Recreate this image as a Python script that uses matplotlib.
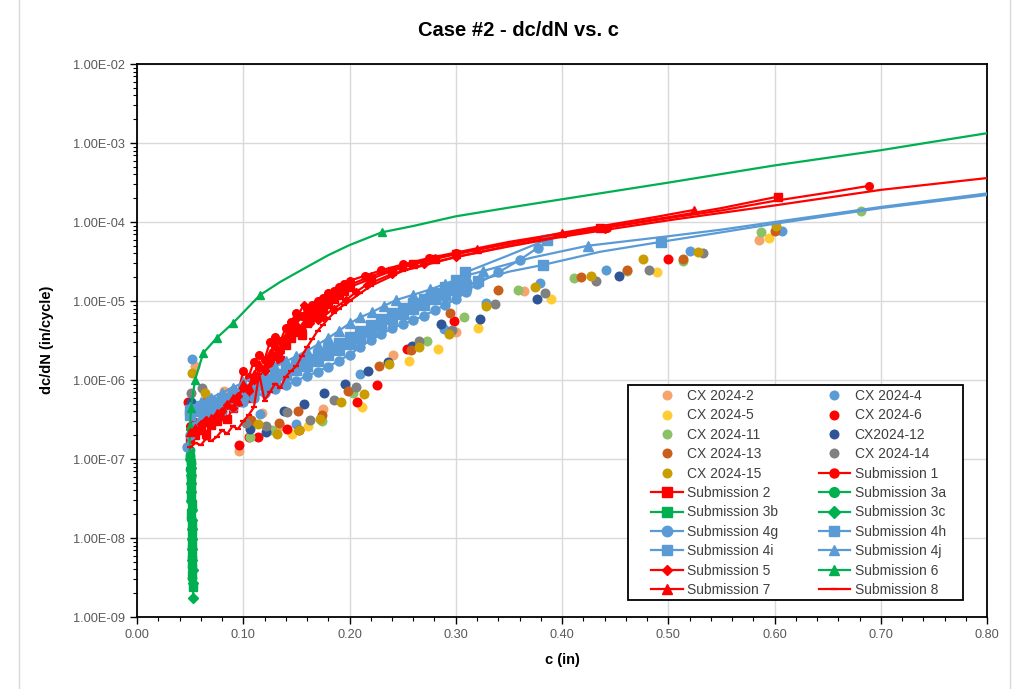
import numpy as np
import matplotlib
matplotlib.use("Agg")
import matplotlib.pyplot as plt
from matplotlib.lines import Line2D
from matplotlib.patches import Rectangle
from matplotlib.ticker import FuncFormatter, MultipleLocator, FixedLocator, NullFormatter

plt.rcParams['font.family'] = ['Liberation Sans', 'DejaVu Sans']

# ---- CX scatter data (c in, dc/dN in/cycle) ----
cx2_c = [0.0546, 0.082, 0.096, 0.118, 0.135, 0.1755, 0.2406, 0.300, 0.364, 0.5857]
cx2_y = [1.5e-6, 7.3e-7, 1.27e-7, 3.8e-7, 2.6e-7, 4.3e-7, 2.1e-6, 4.1e-6, 1.35e-5, 5.9e-5]

cx4_c = [0.0515, 0.1158, 0.150, 0.210, 0.289, 0.328, 0.379, 0.441, 0.520, 0.607]
cx4_y = [1.83e-6, 3.7e-7, 2.8e-7, 1.2e-6, 4.4e-6, 9.5e-6, 1.7e-5, 2.45e-5, 4.3e-5, 7.8e-5]

cx5_c = [0.1456, 0.161, 0.2115, 0.256, 0.2836, 0.321, 0.3897, 0.489, 0.595]
cx5_y = [2.1e-7, 2.6e-7, 4.5e-7, 1.75e-6, 2.5e-6, 4.5e-6, 1.05e-5, 2.35e-5, 6.2e-5]

cx6_c = [0.0483, 0.096, 0.1057, 0.1136, 0.141, 0.152, 0.207, 0.226, 0.254, 0.298, 0.4995]
cx6_y = [5.3e-7, 1.5e-7, 1.9e-7, 1.9e-7, 2.4e-7, 2.3e-7, 5.2e-7, 8.6e-7, 2.5e-6, 5.6e-6, 3.4e-5]

cx11_c = [0.106, 0.1268, 0.174, 0.203, 0.273, 0.308, 0.359, 0.4116, 0.461, 0.5136, 0.587, 0.681]
cx11_y = [1.9e-7, 2.3e-7, 3.0e-7, 6.8e-7, 3.1e-6, 6.3e-6, 1.38e-5, 1.97e-5, 2.4e-5, 3.2e-5, 7.4e-5, 1.38e-4]

cx12_c = [0.051, 0.106, 0.1214, 0.1379, 0.1575, 0.1757, 0.196, 0.217, 0.2365, 0.2585,
          0.286, 0.323, 0.376, 0.4536]
cx12_y = [5.3e-7, 2.4e-7, 2.2e-7, 4.0e-7, 4.9e-7, 6.9e-7, 9.0e-7, 1.3e-6, 1.7e-6, 2.7e-6,
          5.1e-6, 5.9e-6, 1.05e-5, 2.1e-5]

cx13_c = [0.0656, 0.107, 0.1336, 0.1518, 0.174, 0.199, 0.228, 0.2576, 0.2946, 0.340,
          0.4176, 0.461, 0.5136, 0.600]
cx13_y = [5.6e-7, 3.1e-7, 2.85e-7, 4.0e-7, 3.6e-7, 7.3e-7, 1.5e-6, 2.4e-6, 7.0e-6, 1.38e-5,
          2.0e-5, 2.5e-5, 3.4e-5, 7.6e-5]

cx14_c = [0.0508, 0.061, 0.103, 0.121, 0.141, 0.163, 0.185, 0.206, 0.265, 0.296,
          0.337, 0.384, 0.432, 0.482, 0.533]
cx14_y = [6.9e-7, 7.9e-7, 2.85e-7, 2.6e-7, 3.9e-7, 3.1e-7, 5.6e-7, 8.2e-7, 3.1e-6, 4.3e-6,
          9.2e-6, 1.27e-5, 1.77e-5, 2.5e-5, 4.0e-5]

cx15_c = [0.052, 0.064, 0.114, 0.132, 0.152, 0.172, 0.192, 0.214, 0.2375, 0.265,
          0.2937, 0.328, 0.375, 0.427, 0.4765, 0.528, 0.601]
cx15_y = [1.23e-6, 6.9e-7, 2.8e-7, 2.1e-7, 2.3e-7, 3.2e-7, 5.2e-7, 6.6e-7, 1.6e-6, 2.6e-6,
          3.8e-6, 8.7e-6, 1.5e-5, 2.1e-5, 3.4e-5, 4.2e-5, 8.9e-5]

# ---- Submission curves ----
low_c = [0.050, 0.055, 0.060, 0.065, 0.070, 0.075, 0.080, 0.085, 0.090, 0.095,
         0.100, 0.105, 0.110, 0.115, 0.120, 0.125, 0.130, 0.135, 0.140, 0.145,
         0.150, 0.155, 0.160, 0.165, 0.170, 0.175, 0.180, 0.185, 0.190, 0.195, 0.200]

sub1_c = low_c + [0.215, 0.23, 0.25, 0.275, 0.30, 0.35, 0.40, 0.442, 0.50, 0.55, 0.60, 0.65, 0.689]
sub1_y = [2.6e-7, 2.9e-7, 2.7e-7, 3.4e-7, 3.9e-7, 4.6e-7, 4.2e-7, 6.0e-7, 7.5e-7, 6.8e-7,
          1.3e-6, 1.1e-6, 1.7e-6, 2.1e-6, 1.8e-6, 3.0e-6, 3.5e-6, 3.1e-6, 4.6e-6, 5.5e-6,
          7.0e-6, 6.4e-6, 8.0e-6, 8.8e-6, 1.0e-5, 1.1e-5, 1.25e-5, 1.35e-5, 1.5e-5, 1.65e-5, 1.8e-5,
          2.1e-5, 2.45e-5, 2.9e-5, 3.5e-5, 4.1e-5, 5.6e-5, 7.2e-5, 8.5e-5, 1.12e-4, 1.4e-4,
          1.85e-4, 2.35e-4, 2.87e-4]
sub1_marks = [0.442, 0.689]

sub2_c = low_c + [0.22, 0.24, 0.26, 0.28, 0.30, 0.34, 0.38, 0.436, 0.50, 0.55, 0.6036]
sub2_y = [1.8e-7, 2.0e-7, 2.3e-7, 2.1e-7, 2.7e-7, 3.0e-7, 3.5e-7, 3.2e-7, 4.4e-7, 5.2e-7,
          6.5e-7, 6.0e-7, 8.5e-7, 1.1e-6, 1.0e-6, 1.6e-6, 2.0e-6, 1.8e-6, 2.8e-6, 3.4e-6,
          4.0e-6, 3.7e-6, 5.2e-6, 6.2e-6, 7.0e-6, 8.0e-6, 9.2e-6, 1.05e-5, 1.2e-5, 1.35e-5, 1.5e-5,
          1.9e-5, 2.4e-5, 2.9e-5, 3.4e-5, 3.9e-5, 5.0e-5, 6.3e-5, 8.5e-5, 1.15e-4, 1.5e-4, 2.1e-4]
sub2_marks = [0.436, 0.6036]

sub3a_c = [0.0518, 0.0521, 0.0519, 0.0514, 0.0517, 0.0515, 0.0510, 0.0513, 0.0511, 0.0506,
           0.0509, 0.0507, 0.0503, 0.0505, 0.0502, 0.0500]
sub3a_y = [3.1e-9, 4.3e-9, 5.8e-9, 7.8e-9, 1.0e-8, 1.35e-8, 1.8e-8, 2.3e-8, 3.0e-8, 3.9e-8,
           4.8e-8, 6.0e-8, 7.5e-8, 9.0e-8, 1.1e-7, 1.3e-7]

sub3b_c = [0.0523, 0.0520, 0.0522, 0.0517, 0.0519, 0.0515, 0.0516, 0.0512, 0.0514, 0.0509,
           0.0511, 0.0507, 0.0508, 0.0504, 0.0501]
sub3b_y = [2.4e-9, 3.4e-9, 4.9e-9, 6.6e-9, 8.8e-9, 1.2e-8, 1.55e-8, 2.05e-8, 2.7e-8, 3.5e-8,
           4.4e-8, 5.6e-8, 7.0e-8, 8.6e-8, 1.05e-7]

sub3c_c = [0.0530, 0.0526, 0.0524, 0.0521, 0.0522, 0.0518, 0.0516, 0.0517, 0.0513, 0.0511,
           0.0512, 0.0508, 0.0506, 0.0504, 0.0502]
sub3c_y = [1.75e-9, 2.7e-9, 3.9e-9, 5.3e-9, 7.2e-9, 9.6e-9, 1.3e-8, 1.7e-8, 2.25e-8, 2.9e-8,
           3.8e-8, 4.9e-8, 6.2e-8, 7.8e-8, 1.0e-7]

sub4g_c = [0.047, 0.050, 0.055, 0.060, 0.070, 0.080, 0.090, 0.100, 0.110, 0.120, 0.130, 0.140,
           0.150, 0.160, 0.170, 0.180, 0.190, 0.200, 0.210, 0.220, 0.230, 0.240, 0.250, 0.260,
           0.270, 0.280, 0.290, 0.300, 0.310, 0.320, 0.340, 0.360, 0.377]
sub4g_y = [1.4e-7, 2.0e-7, 2.6e-7, 3.0e-7, 3.5e-7, 4.0e-7, 4.6e-7, 5.3e-7, 6.0e-7, 6.8e-7, 7.7e-7, 8.7e-7,
           9.8e-7, 1.12e-6, 1.28e-6, 1.48e-6, 1.75e-6, 2.1e-6, 2.6e-6, 3.2e-6, 3.8e-6, 4.5e-6, 5.1e-6, 5.7e-6,
           6.5e-6, 7.6e-6, 8.9e-6, 1.05e-5, 1.3e-5, 1.65e-5, 2.3e-5, 3.3e-5, 4.7e-5]
sub4g_marks = [0.34, 0.36, 0.377]

sub4h_c = [0.050, 0.060, 0.070, 0.080, 0.090, 0.100, 0.110, 0.120, 0.130, 0.140, 0.150, 0.160,
           0.170, 0.180, 0.190, 0.200, 0.210, 0.220, 0.230, 0.240, 0.250, 0.260, 0.270, 0.280,
           0.290, 0.300, 0.310, 0.321, 0.350, 0.382, 0.436, 0.493, 0.55, 0.60, 0.70, 0.80]
sub4h_y = [3.6e-7, 4.0e-7, 4.5e-7, 5.1e-7, 5.8e-7, 6.6e-7, 7.6e-7, 8.7e-7, 1.0e-6, 1.15e-6, 1.32e-6, 1.52e-6,
           1.75e-6, 2.05e-6, 2.4e-6, 2.85e-6, 3.4e-6, 4.1e-6, 5.0e-6, 5.9e-6, 6.9e-6, 7.9e-6, 9.0e-6, 1.05e-5,
           1.2e-5, 1.38e-5, 1.55e-5, 1.8e-5, 2.35e-5, 2.86e-5, 4.2e-5, 5.6e-5, 7.4e-5, 9.5e-5, 1.5e-4, 2.2e-4]
sub4h_marks = [0.382, 0.493]

sub4i_c = [0.050, 0.060, 0.070, 0.080, 0.090, 0.100, 0.110, 0.120, 0.130, 0.140, 0.150, 0.160,
           0.170, 0.180, 0.190, 0.200, 0.210, 0.220, 0.230, 0.240, 0.250, 0.260, 0.270, 0.280,
           0.290, 0.300, 0.309, 0.350, 0.386]
sub4i_y = [4.2e-7, 4.7e-7, 5.3e-7, 6.0e-7, 6.8e-7, 7.8e-7, 9.0e-7, 1.04e-6, 1.2e-6, 1.39e-6, 1.6e-6, 1.85e-6,
           2.15e-6, 2.5e-6, 2.95e-6, 3.5e-6, 4.2e-6, 5.0e-6, 6.0e-6, 7.0e-6, 8.1e-6, 9.3e-6, 1.07e-5, 1.25e-5,
           1.5e-5, 1.85e-5, 2.3e-5, 3.8e-5, 6.0e-5]
sub4i_marks = [0.386]

sub4j_c = [0.050, 0.060, 0.070, 0.080, 0.090, 0.100, 0.110, 0.120, 0.130, 0.140, 0.150, 0.160,
           0.170, 0.180, 0.190, 0.200, 0.210, 0.221, 0.232, 0.244, 0.260, 0.276, 0.290, 0.300,
           0.310, 0.326, 0.370, 0.424, 0.50, 0.55, 0.60, 0.70, 0.80]
sub4j_y = [4.6e-7, 5.2e-7, 6.0e-7, 6.9e-7, 8.0e-7, 9.3e-7, 1.08e-6, 1.26e-6, 1.47e-6, 1.72e-6, 2.0e-6, 2.35e-6,
           2.8e-6, 3.4e-6, 4.2e-6, 5.2e-6, 6.2e-6, 7.2e-6, 8.6e-6, 1.03e-5, 1.2e-5, 1.4e-5, 1.65e-5, 1.85e-5,
           2.1e-5, 2.4e-5, 3.5e-5, 5.0e-5, 6.6e-5, 8.0e-5, 1.0e-4, 1.55e-4, 2.3e-4]
sub4j_marks = [0.424]

sub5_c = [0.050, 0.055, 0.060, 0.065, 0.070, 0.075, 0.080, 0.085, 0.090, 0.095,
          0.100, 0.105, 0.110, 0.115, 0.120, 0.125, 0.130, 0.135, 0.140, 0.145,
          0.150, 0.157, 0.163, 0.170, 0.175, 0.185, 0.197, 0.206, 0.216,
          0.24, 0.27, 0.30, 0.35, 0.40, 0.44]
sub5_y = [2.4e-7, 2.2e-7, 2.8e-7, 3.1e-7, 2.9e-7, 3.4e-7, 4.0e-7, 4.8e-7, 4.4e-7, 6.2e-7,
          8.0e-7, 7.2e-7, 1.0e-6, 1.4e-6, 1.3e-6, 1.9e-6, 2.6e-6, 2.3e-6, 3.5e-6, 4.6e-6,
          6.0e-6, 9.0e-6, 5.2e-6, 5.8e-6, 6.3e-6, 8.0e-6, 1.03e-5, 1.3e-5, 1.6e-5,
          2.2e-5, 2.9e-5, 3.6e-5, 5.0e-5, 6.7e-5, 8.2e-5]
sub5_marks = [0.44]

sub6_c = [0.0495, 0.0499, 0.0508, 0.0546, 0.0624, 0.075, 0.0906, 0.1158, 0.135, 0.16, 0.18, 0.20,
          0.2303, 0.26, 0.30, 0.35, 0.40, 0.45, 0.50, 0.55, 0.60, 0.65, 0.70, 0.75, 0.80]
sub6_y = [1.2e-7, 2.6e-7, 4.4e-7, 1.0e-6, 2.2e-6, 3.4e-6, 5.3e-6, 1.19e-5, 1.75e-5, 2.7e-5, 3.8e-5, 5.1e-5,
          7.4e-5, 8.9e-5, 1.18e-4, 1.52e-4, 1.94e-4, 2.47e-4, 3.15e-4, 4.05e-4, 5.2e-4, 6.5e-4, 8.1e-4,
          1.04e-3, 1.33e-3]
sub6_marks = [0.0495, 0.0499, 0.0508, 0.0546, 0.0624, 0.075, 0.0906, 0.1158, 0.2303]

sub7_c = low_c + [0.22, 0.25, 0.28, 0.32, 0.36, 0.40, 0.45, 0.49, 0.524]
sub7_y = [2.2e-7, 2.5e-7, 2.4e-7, 2.9e-7, 3.3e-7, 3.8e-7, 3.5e-7, 4.9e-7, 6.0e-7, 5.5e-7,
          9.0e-7, 8.2e-7, 1.2e-6, 1.6e-6, 1.45e-6, 2.2e-6, 2.8e-6, 2.5e-6, 3.6e-6, 4.3e-6,
          5.2e-6, 4.8e-6, 6.5e-6, 7.6e-6, 8.6e-6, 9.5e-6, 1.08e-5, 1.2e-5, 1.35e-5, 1.48e-5, 1.6e-5,
          2.05e-5, 2.8e-5, 3.5e-5, 4.5e-5, 5.7e-5, 7.3e-5, 9.5e-5, 1.17e-4, 1.42e-4]
sub7_marks = [0.40, 0.524]

sub8_c = low_c + [0.21, 0.22, 0.25, 0.30, 0.35, 0.40, 0.45, 0.50, 0.60, 0.70, 0.80]
sub8_y = [1.4e-7, 1.6e-7, 1.5e-7, 1.8e-7, 1.7e-7, 1.9e-7, 2.3e-7, 2.1e-7, 2.6e-7, 2.4e-7,
          3.0e-7, 3.6e-7, 4.5e-7, 1.2e-6, 5.5e-7, 7.0e-7, 9.0e-7, 8.0e-7, 1.1e-6, 1.3e-6,
          1.5e-6, 2.0e-6, 2.6e-6, 3.3e-6, 4.2e-6, 5.0e-6, 6.0e-6, 7.0e-6, 8.0e-6, 9.0e-6, 1.0e-5,
          1.25e-5, 1.55e-5, 2.4e-5, 3.6e-5, 4.9e-5, 6.5e-5, 8.3e-5, 1.05e-4, 1.62e-4, 2.55e-4, 3.6e-4]
sub8_marks = []

y_ticks = [1e-9, 1e-8, 1e-7, 1e-6, 1e-5, 1e-4, 1e-3, 1e-2]

RED = '#FF0000'
GREEN = '#00B050'
BLUE = '#5B9BD5'

cx_series = [
    ('CX 2024-2', cx2_c, cx2_y, '#F4A46C'),
    ('CX 2024-4', cx4_c, cx4_y, '#5B9BD5'),
    ('CX 2024-5', cx5_c, cx5_y, '#FFCD33'),
    ('CX 2024-6', cx6_c, cx6_y, '#FF0000'),
    ('CX 2024-11', cx11_c, cx11_y, '#8CC168'),
    ('CX2024-12', cx12_c, cx12_y, '#2F5597'),
    ('CX 2024-13', cx13_c, cx13_y, '#C95F1A'),
    ('CX 2024-14', cx14_c, cx14_y, '#808080'),
    ('CX 2024-15', cx15_c, cx15_y, '#C99C00'),
]

# name, c, y, color, marker, marker size, marked c in tail (None = every point)
sub_series = [
    ('Submission 1', sub1_c, sub1_y, RED, 'o', 5.5, sub1_marks),
    ('Submission 2', sub2_c, sub2_y, RED, 's', 5.5, sub2_marks),
    ('Submission 3a', sub3a_c, sub3a_y, GREEN, 'o', 6, None),
    ('Submission 3b', sub3b_c, sub3b_y, GREEN, 's', 6, None),
    ('Submission 3c', sub3c_c, sub3c_y, GREEN, 'D', 5, None),
    ('Submission 4g', sub4g_c, sub4g_y, BLUE, 'o', 6.5, sub4g_marks),
    ('Submission 4h', sub4h_c, sub4h_y, BLUE, 's', 6.5, sub4h_marks),
    ('Submission 4i', sub4i_c, sub4i_y, BLUE, 's', 6.5, sub4i_marks),
    ('Submission 4j', sub4j_c, sub4j_y, BLUE, '^', 6.5, sub4j_marks),
    ('Submission 5', sub5_c, sub5_y, RED, 'D', 4.5, sub5_marks),
    ('Submission 6', sub6_c, sub6_y, GREEN, '^', 6, sub6_marks),
    ('Submission 7', sub7_c, sub7_y, RED, '^', 6, sub7_marks),
    ('Submission 8', sub8_c, sub8_y, RED, '_', 4, sub8_marks),
]

fig = plt.figure(figsize=(10.19, 6.89), dpi=100)
ax = fig.add_axes([137/1019, 1-617/689, 850/1019, 553/689])

handles = {}
for name, c, y, col in cx_series:
    ax.plot(c, y, ls='none', marker='o', ms=7.2, mfc=col, mec=col, mew=0, zorder=2)
    handles[name] = Line2D([], [], ls='none', marker='o', ms=7.2, mfc=col, mec=col, mew=0)

for name, c, y, col, mk, ms, marks in sub_series:
    if marks is None:
        every = None
    elif name == 'Submission 6':
        every = [i for i, x in enumerate(c) if x in marks]
    else:
        every = [i for i, x in enumerate(c) if x <= 0.33 or x in marks]
    ax.plot(c, y, color=col, lw=1.6, marker=mk, ms=ms, mfc=col, mec=col, mew=1 if mk != '_' else 1.6,
            markevery=every, zorder=3)
    handles[name] = Line2D([], [], color=col, lw=1.6, marker=mk, ms=ms + 1, mfc=col, mec=col,
                           mew=1 if mk != '_' else 1.6)

ax.set_yscale('log')
ax.set_xlim(0, 0.8)
ax.set_ylim(1e-9, 1e-2)
ax.xaxis.set_major_locator(MultipleLocator(0.1))
ax.xaxis.set_minor_locator(MultipleLocator(0.02))
ax.xaxis.set_major_formatter(FuncFormatter(lambda v, p: f"{v:.2f}"))
ax.yaxis.set_major_locator(FixedLocator(y_ticks))
ax.yaxis.set_minor_locator(FixedLocator([m * t for t in y_ticks[:-1] for m in range(2, 10)]))
ax.yaxis.set_minor_formatter(NullFormatter())
ax.yaxis.set_major_formatter(FuncFormatter(lambda v, p: f"{v:.2E}"))

ax.grid(True, which='major', color='#D9D9D9', lw=1.0)
ax.set_axisbelow(True)
for s in ax.spines.values():
    s.set_color('black')
    s.set_linewidth(1.3)
ax.tick_params(axis='both', which='major', direction='out', length=5, width=1, color='black',
               labelsize=9.2, labelcolor='#595959', pad=4)
ax.tick_params(axis='both', which='minor', direction='out', length=3, width=0.8, color='black')

fig.text(0.509, 1-30/689, 'Case #2 - dc/dN vs. c', ha='center', va='center', fontsize=14.5,
         fontweight='bold', color='black')
fig.text(47/1019, 1-340/689, 'dc/dN (in/cycle)', rotation=90, ha='center', va='center',
         fontsize=10.5, fontweight='bold', color='black')
fig.text(562/1019, 1-660/689, 'c (in)', ha='center', va='center', fontsize=10.5,
         fontweight='bold', color='black')

left_col = ['CX 2024-2', 'CX 2024-5', 'CX 2024-11', 'CX 2024-13', 'CX 2024-15', 'Submission 2',
            'Submission 3b', 'Submission 4g', 'Submission 4i', 'Submission 5', 'Submission 7']
right_col = ['CX 2024-4', 'CX 2024-6', 'CX2024-12', 'CX 2024-14', 'Submission 1', 'Submission 3a',
             'Submission 3c', 'Submission 4h', 'Submission 4j', 'Submission 6', 'Submission 8']
order = left_col + right_col

# legend box drawn separately so the padding can match the reference
ax.add_patch(Rectangle((491/850, 17/553), 335/850, 215/553, transform=ax.transAxes,
                       facecolor='white', edgecolor='black', lw=1.3, zorder=5))
leg = ax.legend([handles[n] for n in order], order, ncol=2, loc='upper left',
                bbox_to_anchor=(514/850, 228/553), borderaxespad=0, borderpad=0,
                fontsize=10, frameon=False, handlelength=2.3, handletextpad=0.3,
                labelspacing=0.39, columnspacing=2.9)
leg.set_zorder(6)
for t in leg.get_texts():
    t.set_color('#404040')

fig.patches.append(Rectangle((19/1019, -0.02), (1010-19)/1019, 1.05, transform=fig.transFigure,
                             fill=False, edgecolor='#D9D9D9', lw=1.0))

fig.savefig('out.png', dpi=100)
